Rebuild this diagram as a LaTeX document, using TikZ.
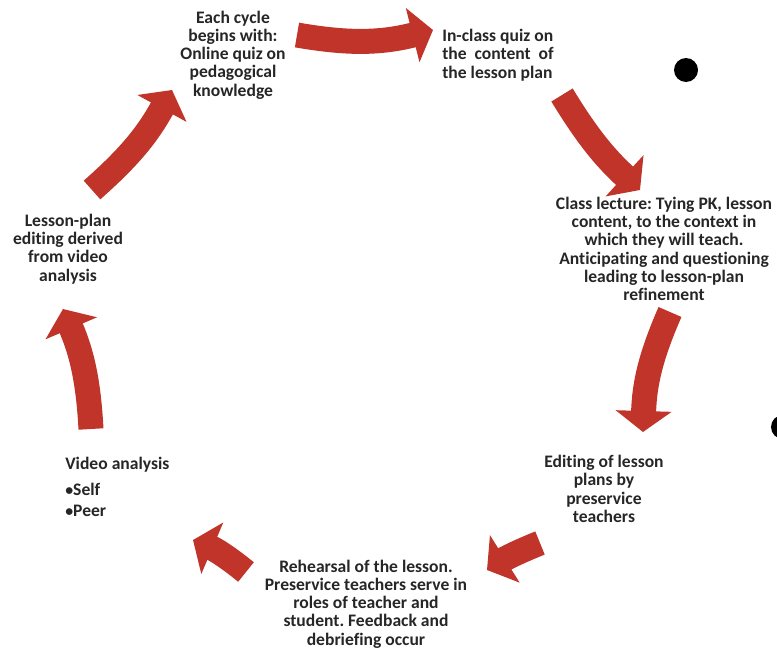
\documentclass[tikz,border=0pt]{standalone}
\usepackage{fontspec}
\setmainfont{Carlito}[Ligatures=NoCommon]
\usetikzlibrary{positioning, arrows.meta}
\definecolor{cyclered}{RGB}{192,52,42}
\definecolor{textgray}{RGB}{38,38,38}
\frenchspacing

\begin{document}
\begin{tikzpicture}[
  x=0.02cm, y=0.02cm,
  stagetext/.style={align=center, inner sep=0pt, text=textgray, font=\fontsize{10}{10.4}\selectfont\bfseries},
  cyclearrow/.style={line width=0.5cm, color=cyclered, -{Triangle[width=1.1cm, length=0.42cm]}},
  blackdot/.style={circle, fill=black, minimum size=0.48cm, inner sep=0pt}
]
\useasboundingbox (0,0) rectangle (777,650);

% stages of the cycle
\node[stagetext] (quiz) at (233,595) {Each cycle\\begins with:\\Online quiz on\\pedagogical\\knowledge};
\node[stagetext, align=left, anchor=west] (inclass) at (442,595) {In-class quiz on\\the~~content~~of\\the lesson plan};
\node[stagetext] (lecture) at (664,401) {Class lecture: Tying PK, lesson\\content, to the context in\\which they will teach.\\Anticipating and questioning\\leading to lesson-plan\\refinement};
\node[stagetext] (editing) at (604,161) {Editing of lesson\\plans by\\preservice\\teachers};
\node[stagetext] (rehearsal) at (366,46) {Rehearsal of the lesson.\\Preservice teachers serve in\\roles of teacher and\\student. Feedback and\\debriefing occur};
\node[stagetext, align=left, anchor=west] (video) at (65,163) {Video analysis\\[4.3pt]{\small•}Self\\[1.5pt]{\small•}Peer};
\node[stagetext] (replan) at (68,401) {Lesson-plan\\editing derived\\from video\\analysis};

% arrow ends
\coordinate (a1s) at (297,615);  \coordinate (a1e) at (433,620);
\coordinate (a2s) at (562,555);  \coordinate (a2e) at (640,460);
\coordinate (a3s) at (670,338);  \coordinate (a3e) at (643,218);
\coordinate (a4s) at (540,107);  \coordinate (a4e) at (487,80);
\coordinate (a5s) at (246,78);   \coordinate (a5e) at (193,110);
\coordinate (a6s) at (91,221);   \coordinate (a6e) at (63,341);
\coordinate (a7s) at (92,460);   \coordinate (a7e) at (172,560);

\draw[cyclearrow] (a1s) to[bend right=12] (a1e);
\draw[cyclearrow] (a2s) to[bend right=8] (a2e);
\draw[cyclearrow] (a3s) to[bend right=11] (a3e);
\draw[cyclearrow] (a4s) to[bend right=5] (a4e);
\draw[cyclearrow] (a5s) to[bend right=8] (a5e);
\draw[cyclearrow] (a6s) to[bend right=10] (a6e);
\draw[cyclearrow] (a7s) to[bend right=10] (a7e);

% stray bullets
\node[blackdot] (dota) at (686,580) {};
\node[blackdot] (dotb) at (783,223) {};
\end{tikzpicture}
\end{document}
